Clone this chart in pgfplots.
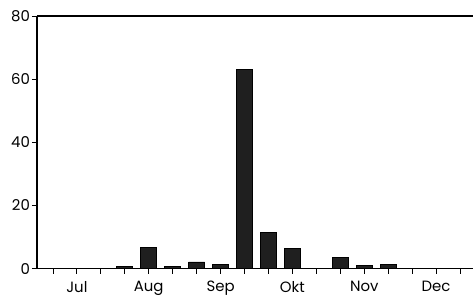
\documentclass[border=0pt]{standalone}
\usepackage{pgfplots}
\pgfplotsset{compat=1.18}
\usepackage{fontspec}
\setmainfont{Poppins}
\begin{document}
\begin{tikzpicture}
\begin{axis}[
  at={(0,0)}, anchor=south west,
  scale only axis, width=437bp, height=253bp,
  xmin=-0.667, xmax=17.55, ymin=0, ymax=80,
  axis x line=bottom, axis y line=left,
  axis line style={-, line width=1.6pt, black},
  ytick={0,20,40,60,80},
  xtick={0,...,17},
  xticklabels={,Jul,,,Aug,,,Sep,,,Okt,,,Nov,,,Dec,},
  tick align=outside,
  major tick length=5bp,
  tick style={line width=0.8pt, black},
  ticklabel style={font=\fontsize{15}{17}\selectfont},
  /pgf/number format/assume math mode=true,
  yticklabel style={xshift=1.5bp},
  xticklabel style={yshift=-4bp},
  clip=false,
  ybar, bar width=0.667,
]
\addplot[fill=black!88, draw=black, line width=0.6pt] coordinates {
 (0,0) (1,0) (2,0) (3,0.6) (4,6.7) (5,0.6) (6,2.1) (7,1.4) (8,63.2)
 (9,11.5) (10,6.4) (11,0) (12,3.5) (13,1.1) (14,1.4) (15,0) (16,0) (17,0)
};
\draw[line width=1.6pt] (rel axis cs:0,1) -- (rel axis cs:1,1);
\end{axis}
\path (-37bp,-28bp) rectangle (437bp,269bp);
\end{tikzpicture}
\end{document}
